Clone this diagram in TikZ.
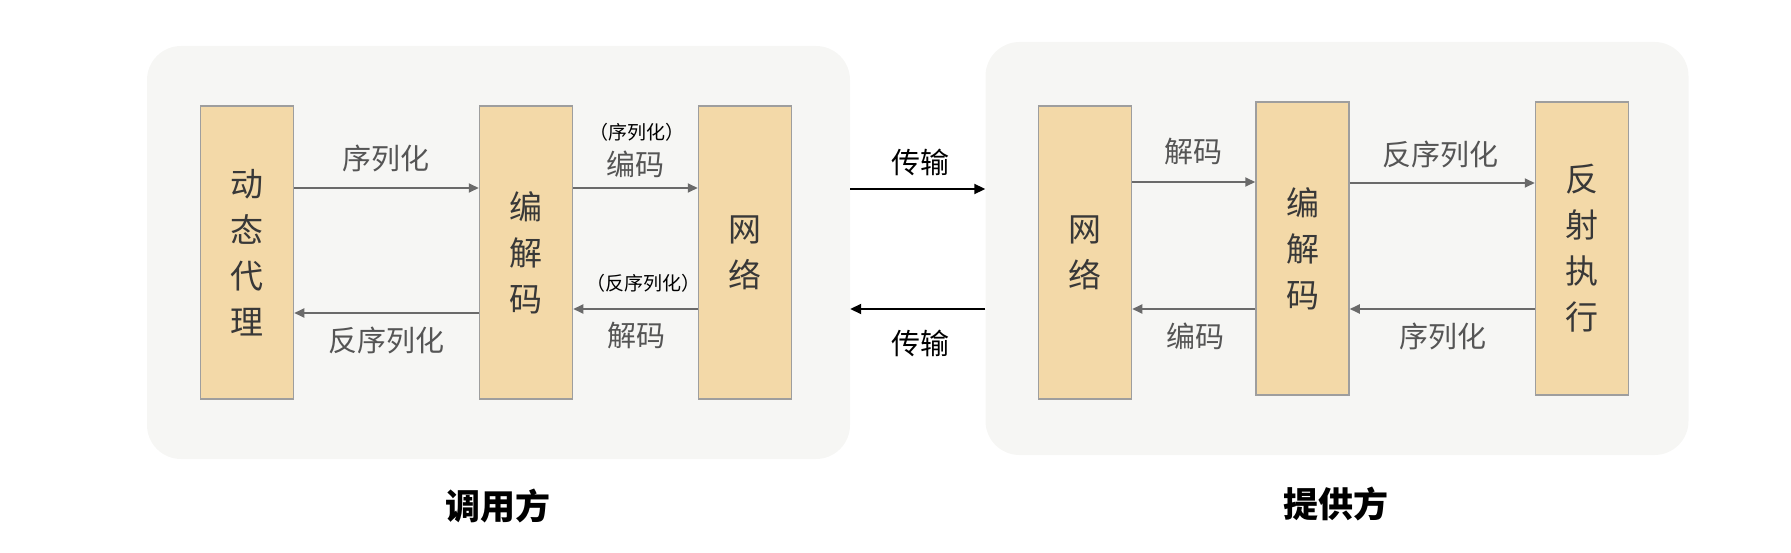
\documentclass[tikz,border=0pt]{standalone}
\usepackage{fontspec}
\setmainfont{Noto Sans CJK SC}
\usetikzlibrary{arrows.meta}
\definecolor{boxfill}{HTML}{F3D9A8}
\definecolor{boxline}{HTML}{9E9E9E}
\definecolor{panelfill}{HTML}{F6F6F4}
\definecolor{linegray}{HTML}{6A6A6A}
\definecolor{labelgray}{HTML}{555555}
\begin{document}
\begin{tikzpicture}[x=1pt,y=-1pt,
		panel/.style={rectangle,rounded corners=34pt,fill=panelfill,minimum width=703pt,minimum height=413pt},
		stage/.style={rectangle,draw=boxline,line width=1.5pt,fill=boxfill,minimum width=93pt,minimum height=293pt,
			text=black!78,align=center,font=\fontsize{33}{46}\selectfont},
		flow/.style={-{Triangle[length=10pt,width=9pt]},line width=1.8pt,draw=linegray},
		wire/.style={-{Triangle[length=11pt,width=10pt]},line width=1.8pt,draw=black},
		lbl/.style={text=labelgray,font=\fontsize{29}{34}\selectfont},
		note/.style={text=black,font=\fontsize{19}{23}\selectfont},
		side/.style={text=black,font=\bfseries\fontsize{35}{40}\selectfont}]
		\useasboundingbox (0,0) rectangle (1791,553);

		% Caller
		\node[panel] (caller) at (498.5,252.5) {};
		\node[stage] (proxy) at (247,252.5) {动\\态\\代\\理};
		\node[stage] (codecL) at (526,252.5) {编\\解\\码};
		\node[stage] (netL) at (745,252.5) {网\\络};

		\draw[flow] ([yshift=64.5pt]proxy.east) -- ([yshift=64.5pt]proxy.east -| codecL.west);
		\draw[flow] ([yshift=-60.5pt]codecL.west) -- ([yshift=-60.5pt]codecL.west -| proxy.east);
		\draw[flow] ([yshift=64.5pt]codecL.east) -- ([yshift=64.5pt]codecL.east -| netL.west);
		\draw[flow] ([yshift=-56.5pt]netL.west) -- ([yshift=-56.5pt]netL.west -| codecL.east);

		\node[lbl] (serL) at (386,158) {序列化};
		\node[lbl] (deserL) at (386,340) {反序列化};
		\node[note] (serNote) at (637,132) {（序列化）};
		\node[lbl] (encL) at (635,164) {编码};
		\node[note] (deserNote) at (643,283) {（反序列化）};
		\node[lbl] (decL) at (636,336) {解码};

		\node[side] (callerName) at (498,506) {调用方};

		% Provider
		\node[panel] (provider) at (1337,248.5) {};
		\node[stage] (netR) at (1085,252.5) {网\\络};
		\node[stage] (codecR) at (1302.5,248.5) {编\\解\\码};
		\node[stage] (reflect) at (1582,248.5) {反\\射\\执\\行};

		\draw[flow] ([yshift=70.5pt]netR.east) -- ([yshift=70.5pt]netR.east -| codecR.west);
		\draw[flow] ([yshift=-60.5pt]codecR.west) -- ([yshift=-60.5pt]codecR.west -| netR.east);
		\draw[flow] ([yshift=65.5pt]codecR.east) -- ([yshift=65.5pt]codecR.east -| reflect.west);
		\draw[flow] ([yshift=-60.5pt]reflect.west) -- ([yshift=-60.5pt]reflect.west -| codecR.east);

		\node[lbl] (decR) at (1193,152) {解码};
		\node[lbl] (deserR) at (1440,154) {反序列化};
		\node[lbl] (encR) at (1195,336) {编码};
		\node[lbl] (serR) at (1443,336) {序列化};

		\node[side] (providerName) at (1336,504) {提供方};

		% Transport
		\draw[wire] ([yshift=63.5pt]caller.east) -- ([yshift=63.5pt]caller.east -| provider.west);
		\draw[wire] ([yshift=-56.5pt]caller.east -| provider.west) -- ([yshift=-56.5pt]caller.east);
		\node[text=black,font=\fontsize{29}{34}\selectfont] (sendUp) at (920,162) {传输};
		\node[text=black,font=\fontsize{29}{34}\selectfont] (sendDown) at (920,343) {传输};
	\end{tikzpicture}
\end{document}
